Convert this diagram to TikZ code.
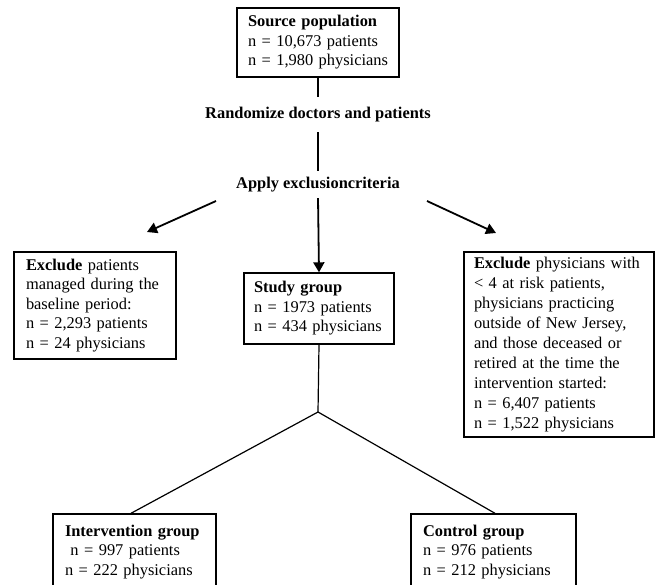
\documentclass[tikz,border=0pt]{standalone}
\usepackage{fontspec}
\setmainfont{Liberation Serif}
\usetikzlibrary{arrows.meta,calc}
\tikzset{
  box/.style={draw, line width=1.4pt, rectangle, align=left, inner ysep=0pt,
    font=\fontsize{16.4}{19.5}\selectfont},
  lbl/.style={inner xsep=0pt, font=\fontsize{16.4}{19.5}\selectfont\bfseries},
  conn/.style={line width=1.2pt},
  arr/.style={line width=1.8pt, -{Triangle[length=10pt,width=11pt]}},
}
\begin{document}
\begin{tikzpicture}[x=1pt,y=-1pt]
\path[use as bounding box] (0,0) rectangle (658,584);
\clip (0,0) rectangle (658,584);

\node[box, minimum width=162pt, minimum height=69pt, text width=140pt, inner xsep=11pt] (src) at (318,42.5)
  {\textbf{Source population}\\n = 10,673 patients\\n = 1,980 physicians};

\node[lbl, inner ysep=10pt] (rand) at (318,114.5) {Randomize doctors and patients};
\node[lbl, inner ysep=6pt] (apply) at (318,184.5) {Apply exclusioncriteria};

\node[box, minimum width=162pt, minimum height=107pt, text width=138pt, inner xsep=12pt] (exl) at (95,305.5)
  {\textbf{Exclude} patients\\managed during the\\baseline period:\\n = 2,293 patients\\n = 24 physicians};

\node[box, minimum width=150pt, minimum height=71pt, text width=130pt, inner xsep=10pt] (study) at (319,308.5)
  {\textbf{Study group}\\n = 1973 patients\\n = 434 physicians};

\node[box, minimum width=190pt, minimum height=185pt, text width=170pt, inner xsep=10pt,
  font=\fontsize{16.4}{20}\selectfont] (exr) at (559,344.5)
  {\textbf{Exclude} physicians with\\< 4 at risk patients,\\physicians practicing\\outside of New Jersey,\\and those deceased or\\retired at the time the\\intervention started:\\n = 6,407 patients\\n = 1,522 physicians};

\node[box, minimum width=163pt, minimum height=76pt, text width=139pt, inner xsep=12pt,
  font=\fontsize{16.4}{19.7}\selectfont] (interv) at (134.5,552)
  {\textbf{Intervention group}\\\ n = 997 patients\\n = 222 physicians};

\node[box, minimum width=165pt, minimum height=76pt, text width=141pt, inner xsep=12pt,
  font=\fontsize{16.4}{19.7}\selectfont] (ctrl) at (493.5,552)
  {\textbf{Control group}\\n = 976 patients\\n = 212 physicians};

\coordinate (split) at (318,412);
\coordinate (la0) at (216,201);
\coordinate (la1) at (147,232);
\coordinate (ra0) at (427,201);
\coordinate (ra1) at (496,233);

\draw[conn] (src.south) -- (rand.north);
\draw[conn] (rand.south) -- (apply.north);
\draw[arr] (apply.south) -- (study.north);
\draw[arr] (la0) -- (la1);
\draw[arr] (ra0) -- (ra1);
\draw[conn] (study.south) -- (split);
\draw[conn] (split) -- ([xshift=-3.5pt]interv.north);
\draw[conn] (split) -- ([xshift=1.5pt]ctrl.north);
\end{tikzpicture}
\end{document}
